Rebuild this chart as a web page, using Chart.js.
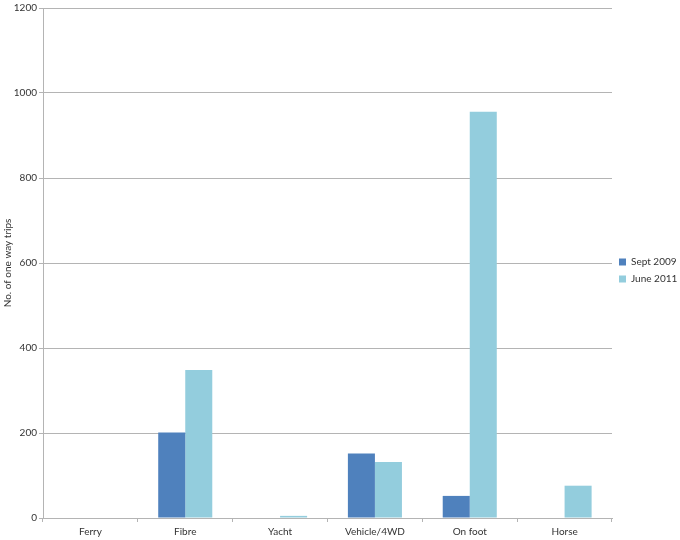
<!DOCTYPE html>
<html><head><meta charset="utf-8">
<script src="https://cdn.jsdelivr.net/npm/chart.js@4/dist/chart.umd.min.js"></script>
<style>html,body{margin:0;padding:0;background:#fff}#c{display:block}</style>
</head><body>
<canvas id="c" width="680" height="540"></canvas>
<script>
const categories = ["Ferry", "Fibre", "Yacht", "Vehicle/4WD", "On foot", "Horse"];
const sept2009 = [0, 201, 0, 152, 52, 0];
const june2011 = [0, 348, 5, 132, 956, 76];
const yTicks = [0, 200, 400, 600, 800, 1000, 1200];

const FONT = "Lato, 'Open Sans', sans-serif";
new Chart(document.getElementById('c'), {
  type: 'bar',
  data: {
    labels: categories,
    datasets: [
      {label: 'Sept 2009', data: sept2009, backgroundColor: '#4f81bd', borderWidth: 0},
      {label: 'June 2011', data: june2011, backgroundColor: '#93cddd', borderWidth: 0}
    ]
  },
  options: {
    responsive: false,
    animation: false,
    layout: {padding: {top: 1, right: 0, left: 0, bottom: 0}},
    categoryPercentage: 0.57,
    barPercentage: 1.0,
    plugins: {
      tooltip: {enabled: false},
      legend: {
        position: 'right',
        maxWidth: 68,
        labels: {boxWidth: 7, boxHeight: 7, font: {size: 10, family: FONT}, color: '#333', padding: 7}
      }
    },
    scales: {
      x: {
        afterFit: (s) => { s.height = 22; },
        grid: {display: true, drawOnChartArea: false, color: '#b4b4b4', tickLength: 4, offset: true},
        border: {color: '#b4b4b4'},
        ticks: {font: {size: 10, family: FONT}, color: '#333', padding: 4, maxRotation: 0}
      },
      y: {
        min: 0, max: 1200,
        afterFit: (s) => { s.width = 43; },
        afterBuildTicks: (ax) => { ax.ticks = yTicks.map(v => ({value: v})); },
        grid: {color: '#b4b4b4', tickLength: 4},
        border: {color: '#b4b4b4'},
        ticks: {font: {size: 10, family: FONT}, color: '#333', padding: 2, callback: (v) => String(v)},
        title: {display: true, text: 'No. of one way trips', font: {size: 10, family: FONT}, color: '#333', padding: 2}
      }
    }
  }
});
</script>
</body></html>
